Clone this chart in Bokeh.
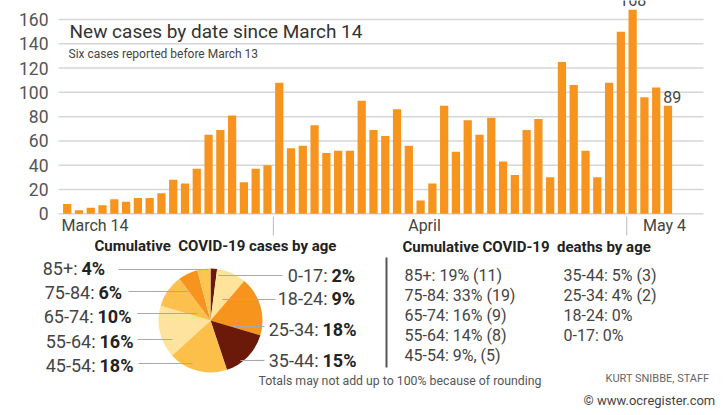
import numpy as np
import pandas as pd
from bokeh.plotting import figure
from bokeh.models import Range1d, ColumnDataSource
from bokeh.embed import file_html
from bokeh.resources import INLINE
from bokeh.core.properties import value

# ---------------- data ----------------
days = pd.date_range("2020-03-14", "2020-05-04", freq="D")
new_cases = [8, 3, 5, 7, 12, 10, 13, 13, 17, 28, 25, 37, 65, 69, 81, 26, 37, 40,
             108, 54, 56, 73, 50, 52, 52, 93, 69, 64, 86, 56, 11, 25, 89, 51, 77,
             65, 79, 43, 32, 69, 78, 30, 125, 106, 52, 30, 108, 150,
             168, 96, 104, 89]
y_ticks = [0, 20, 40, 60, 80, 100, 120, 140, 160]
date_labels = ["March 14", "April", "May 4"]

case_groups = ["0-17", "18-24", "25-34", "35-44", "45-54", "55-64", "65-74", "75-84", "85+"]
case_pct = [2, 9, 18, 15, 18, 16, 10, 6, 4]
case_colors = ["#6b1a0a", "#fde49a", "#f7941d", "#6b1a0a", "#fcbf4a",
               "#fde39e", "#fcc04f", "#f7941d", "#fcc552"]

death_groups = ["85+", "75-84", "65-74", "55-64", "45-54", "35-44", "25-34", "18-24", "0-17"]
death_pct = [19, 33, 16, 14, 9, 5, 4, 0, 0]
death_count = [11, 19, 9, 8, 5, 3, 2, None, None]

FONT = value("Roboto")
ORANGE = "#f7941d"
W, H = 725, 415

# Page layout: the bar panel has its own scales (day index, case count),
# everything else is placed on a pixel-like canvas scale.
X0, DX = 66.7, 11.78          # pixel centre of first bar, bar pitch
Y0, DY = 213.3, 1.2144        # pixel row of zero line, pixels per case


def xi(px):
    return 1 + (px - X0) / DX


def yv(py):
    return (Y0 - py) / DY


def Y(py):
    return H - py


p = figure(width=W, height=H, output_backend="svg", toolbar_location=None,
           x_range=Range1d(0, W), y_range=Range1d(0, H),
           x_axis_type=None, y_axis_type=None,
           min_border=0, min_border_left=0, min_border_right=0,
           min_border_top=0, min_border_bottom=0)
p.extra_x_ranges = {"day": Range1d(xi(0), xi(W))}
p.extra_y_ranges = {"cases": Range1d(yv(H), yv(0))}
p.outline_line_color = None
p.xgrid.visible = False
p.ygrid.visible = False
p.background_fill_color = "white"
p.border_fill_color = "white"

bar_kw = dict(x_range_name="day", y_range_name="cases")

# ---------------- daily bars ----------------
# horizontal grid at each tick value
p.segment(x0=xi(58), x1=xi(703), y0=y_ticks, y1=y_ticks,
          line_color="#d6d6d6", line_width=1.5, **bar_kw)
p.text(x=xi(48), y=y_ticks, text=[str(t) for t in y_ticks],
       text_font=FONT, text_font_size="17.5px", text_color="#555555",
       text_align="right", text_baseline="middle", **bar_kw)

x = np.arange(1, len(new_cases) + 1)
src = ColumnDataSource(dict(x=x, y=new_cases))
p.vbar(x="x", top="y", width=0.7, bottom=0, source=src,
       fill_color=ORANGE, line_color=None, **bar_kw)

# date axis: tick marks at month boundaries, labels in between
month_starts = [i + 1 for i, d in enumerate(days) if d.day == 1]
bounds = [m - 0.5 for m in month_starts]
p.segment(x0=bounds, x1=bounds, y0=yv(216), y1=yv(235),
          line_color="#bbbbbb", line_width=1, **bar_kw)
label_pos = [xi(94.5), xi(424), xi(664)]
p.text(x=label_pos, y=[yv(224.5)] * 3, text=date_labels,
       text_font=FONT, text_font_size="16px", text_color="#444444",
       text_align="center", text_baseline="middle", **bar_kw)

# headline
p.text(x=[xi(69)], y=[yv(31)], text=["New cases by date since March 14"],
       text_font=FONT, text_font_size="19px", text_color="#333333",
       text_align="left", text_baseline="middle", **bar_kw)
p.text(x=[xi(68)], y=[yv(53)], text=["Six cases reported before March 13"],
       text_font=FONT, text_font_size="12px", text_color="#444444",
       text_align="left", text_baseline="middle", **bar_kw)

# value callouts: peak day and latest day
i_max = int(np.argmax(new_cases))
i_last = len(new_cases) - 1
p.text(x=[x[i_max]], y=[new_cases[i_max]], text=[str(new_cases[i_max])],
       text_font=FONT, text_font_size="16px", text_color="#444444",
       text_align="center", text_baseline="bottom", y_offset=-4, **bar_kw)
p.text(x=[x[i_last] - 0.4], y=[new_cases[i_last]], text=[str(new_cases[i_last])],
       text_font=FONT, text_font_size="16px", text_color="#444444",
       text_align="left", text_baseline="bottom", y_offset=-3, **bar_kw)

# ---------------- age breakdowns ----------------


def labels(xs, ys, texts, size, color, align="left", bold=False):
    p.text(x=xs, y=[Y(v) for v in ys], text=texts,
           text_font=FONT, text_font_size=size,
           text_font_style="bold" if bold else "normal",
           text_color=color, text_align=align, text_baseline="middle")


# pie, clockwise from twelve o'clock
cx, cy, r = 210, Y(320), 52
frac = np.array(case_pct, dtype=float) / sum(case_pct)
cum = np.concatenate([[0], np.cumsum(frac)])
start = np.pi / 2 - 2 * np.pi * cum[1:]
end = np.pi / 2 - 2 * np.pi * cum[:-1]
pie = ColumnDataSource(dict(start=start, end=end, color=case_colors))
p.wedge(x=cx, y=cy, radius=r, start_angle="start", end_angle="end",
        fill_color="color", line_color=None, source=pie)

# leader lines
leaders = {
    "85+": (118, 208, 269), "75-84": (128, 188, 291), "65-74": (137, 197, 313),
    "55-64": (137, 172, 339), "45-54": (138, 192, 363),
    "0-17": (218, 282, 275), "18-24": (222, 275, 299),
    "25-34": (232, 264, 326), "35-44": (240, 264, 360),
}
p.segment(x0=[v[0] for v in leaders.values()], x1=[v[1] for v in leaders.values()],
          y0=[Y(v[2]) for v in leaders.values()], y1=[Y(v[2]) for v in leaders.values()],
          line_color="#a8a8a8", line_width=1.2)

# pie labels: regular age range + bold share
pct = dict(zip(case_groups, case_pct))
rows = [("85+", 81, 268), ("75-84", 98, 291.5), ("65-74", 97, 315.5),
        ("55-64", 99, 341), ("45-54", 99, 365),
        ("0-17", 331, 275), ("18-24", 331, 297.5),
        ("25-34", 322, 329), ("35-44", 322, 360)]
labels([b - 4 for _, b, _ in rows], [yy for _, _, yy in rows],
       [g + ":" for g, _, _ in rows], "18px", "#444444", align="right")
labels([b for _, b, _ in rows], [yy for _, _, yy in rows],
       ["%d%%" % pct[g] for g, _, _ in rows], "18px", "#222222", bold=True)

# section headings (wide gaps kept with a no-break space)
labels([94, 402], [245.5, 246],
       ["Cumulative\u00a0 COVID-19 cases by age", "Cumulative COVID-19\u00a0 deaths by age"],
       "15px", "#222222", bold=True)

# divider
p.segment(x0=[386], x1=[386], y0=[Y(257)], y1=[Y(367)],
          line_color="#555555", line_width=2)

# deaths list in two columns
death_text = []
for g, pc, n in zip(death_groups, death_pct, death_count):
    if n is None:
        death_text.append("%s: %d%%" % (g, pc))
    elif g == "45-54":
        death_text.append("%s: %d%%, (%d)" % (g, pc, n))
    else:
        death_text.append("%s: %d%% (%d)" % (g, pc, n))
col_x = [404] * 5 + [563] * 4
row_y = [275, 295, 315, 335, 355] + [275, 295, 315, 335]
labels(col_x, row_y, death_text, "16px", "#444444")

# footnotes
labels([258], [380], ["Totals may not add up to 100% because of rounding"], "12.3px", "#555555")
labels([605], [378], ["KURT SNIBBE, STAFF"], "11px", "#666666")
labels([583], [400], ["© www.ocregister.com"], "13px", "#444444")

open("out.html", "w").write(file_html(p, INLINE))
